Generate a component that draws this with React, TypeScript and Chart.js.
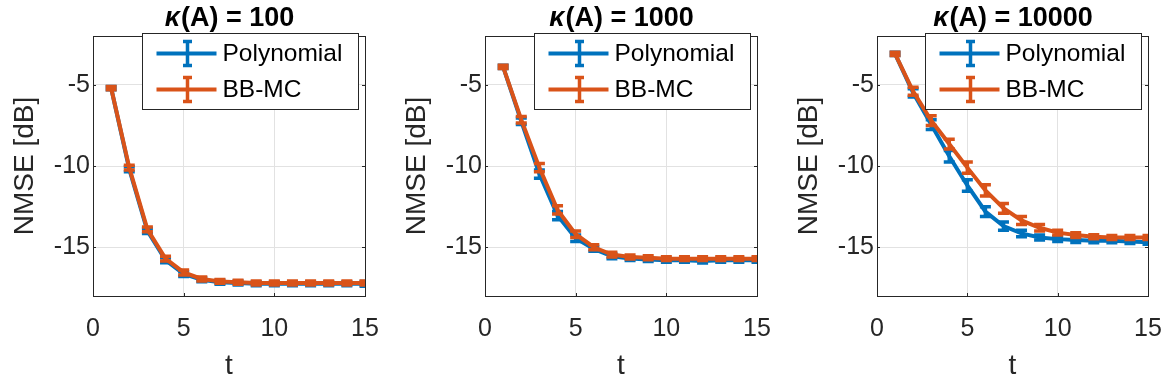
import React, { useEffect, useRef } from "react";
import { Chart, registerables } from "chart.js";

Chart.register(...registerables);

const FONT = '"Liberation Sans", Arial, Helvetica, sans-serif';

// ---------- data ----------
const tValues = [1, 2, 3, 4, 5, 6, 7, 8, 9, 10, 11, 12, 13, 14, 15];
const xTickValues = [0, 5, 10, 15];
const yTickValues = [-15, -10, -5];
const seriesNames = ["Polynomial", "BB-MC"];
const kappaLabels = ["100", "1000", "10000"];

const poly100 = [-5.2, -10.2, -14.0, -15.8, -16.65, -17.0, -17.15, -17.2, -17.25, -17.25, -17.25, -17.25, -17.25, -17.25, -17.25];
const polyErr100 = [0.1, 0.15, 0.15, 0.15, 0.15, 0.12, 0.12, 0.12, 0.12, 0.12, 0.12, 0.12, 0.12, 0.12, 0.15];
const bbmc100 = [-5.2, -10.1, -13.9, -15.7, -16.55, -16.95, -17.1, -17.15, -17.2, -17.2, -17.2, -17.2, -17.2, -17.2, -17.2];
const bbmcErr100 = [0.1, 0.15, 0.15, 0.15, 0.15, 0.12, 0.12, 0.12, 0.12, 0.12, 0.12, 0.12, 0.12, 0.12, 0.12];

const poly1000 = [-3.9, -7.25, -10.5, -13.05, -14.45, -15.1, -15.55, -15.7, -15.75, -15.8, -15.8, -15.85, -15.8, -15.8, -15.8];
const polyErr1000 = [0.1, 0.2, 0.25, 0.25, 0.2, 0.15, 0.15, 0.12, 0.12, 0.12, 0.12, 0.12, 0.12, 0.12, 0.12];
const bbmc1000 = [-3.9, -7.15, -10.1, -12.7, -14.2, -15.0, -15.45, -15.6, -15.65, -15.7, -15.7, -15.7, -15.7, -15.7, -15.7];
const bbmcErr1000 = [0.1, 0.2, 0.25, 0.25, 0.2, 0.15, 0.15, 0.12, 0.12, 0.12, 0.12, 0.12, 0.12, 0.12, 0.12];

const poly10000 = [-3.1, -5.5, -7.45, -9.4, -11.2, -12.8, -13.7, -14.15, -14.4, -14.5, -14.55, -14.6, -14.6, -14.65, -14.7];
const polyErr10000 = [0.1, 0.25, 0.3, 0.35, 0.35, 0.3, 0.25, 0.2, 0.15, 0.15, 0.15, 0.12, 0.12, 0.12, 0.12];
const bbmc10000 = [-3.1, -5.4, -7.2, -8.65, -10.1, -11.5, -12.6, -13.35, -13.8, -14.1, -14.25, -14.35, -14.4, -14.4, -14.4];
const bbmcErr10000 = [0.1, 0.25, 0.3, 0.3, 0.35, 0.35, 0.3, 0.25, 0.2, 0.15, 0.15, 0.12, 0.12, 0.12, 0.12];

const X_MIN = 0;
const X_MAX = 15;
const Y_MIN = -18;
const Y_MAX = -2;

// ---------- layout ----------
const BLUE = "#0072BD";
const ORANGE = "#D95319";
const AXIS = "#262626";
const GRID = "#E2E2E2";
const HEIGHT = 376;
const AREA_TOP = 36;
const AREA_BOTTOM = 296;
const LINE_W = 4;

type PanelDef = {
  kappa: string;
  poly: number[];
  polyErr: number[];
  bb: number[];
  bbErr: number[];
  left: number;
  width: number;
  areaLeft: number;
  areaRight: number;
};

const panels: PanelDef[] = [
  { kappa: kappaLabels[0], poly: poly100, polyErr: polyErr100, bb: bbmc100, bbErr: bbmcErr100, left: 0, width: 392, areaLeft: 93, areaRight: 365 },
  { kappa: kappaLabels[1], poly: poly1000, polyErr: polyErr1000, bb: bbmc1000, bbErr: bbmcErr1000, left: 392, width: 392, areaLeft: 93, areaRight: 365 },
  { kappa: kappaLabels[2], poly: poly10000, polyErr: polyErr10000, bb: bbmc10000, bbErr: bbmcErr10000, left: 784, width: 392, areaLeft: 93, areaRight: 364 },
];

function makeOverlay(p: PanelDef, errs: number[][], colors: string[]) {
  return {
    id: "overlay",
    afterDatasetDraw(chart: any, args: any) {
      const ctx = chart.ctx;
      const ys = chart.scales.y;
      const meta = args.meta;
      const e = errs[args.index];
      const ds = chart.data.datasets[args.index];
      ctx.save();
      const a = chart.chartArea;
      ctx.beginPath();
      ctx.rect(a.left, a.top, a.right - a.left, a.bottom - a.top);
      ctx.clip();
      ctx.strokeStyle = colors[args.index];
      ctx.lineWidth = 3.5;
      ctx.lineCap = "butt";
      meta.data.forEach((pt: any, i: number) => {
        const v = ds.data[i].y;
        const y1 = ys.getPixelForValue(v + e[i]);
        const y2 = ys.getPixelForValue(v - e[i]);
        const x = pt.x;
        ctx.beginPath();
        ctx.moveTo(x, y1);
        ctx.lineTo(x, y2);
        ctx.moveTo(x - 5.5, y1);
        ctx.lineTo(x + 5.5, y1);
        ctx.moveTo(x - 5.5, y2);
        ctx.lineTo(x + 5.5, y2);
        ctx.stroke();
      });
      ctx.restore();
    },
    afterDraw(chart: any) {
      const ctx = chart.ctx;
      const a = chart.chartArea;
      const xs = chart.scales.x;
      const ys = chart.scales.y;
      ctx.save();
      // box
      ctx.strokeStyle = AXIS;
      ctx.lineWidth = 1;
      ctx.strokeRect(Math.round(a.left) + 0.5, Math.round(a.top) + 0.5, Math.round(a.right - a.left), Math.round(a.bottom - a.top));
      // inward ticks
      ctx.beginPath();
      xTickValues.forEach((v) => {
        const x = Math.round(xs.getPixelForValue(v)) + 0.5;
        ctx.moveTo(x, a.bottom);
        ctx.lineTo(x, a.bottom - 3);
        ctx.moveTo(x, a.top);
        ctx.lineTo(x, a.top + 3);
      });
      yTickValues.forEach((v) => {
        const y = Math.round(ys.getPixelForValue(v)) + 0.5;
        ctx.moveTo(a.left, y);
        ctx.lineTo(a.left + 3, y);
        ctx.moveTo(a.right, y);
        ctx.lineTo(a.right - 3, y);
      });
      ctx.stroke();

      const cx = (a.left + a.right) / 2;
      // title
      ctx.fillStyle = "#000";
      ctx.textBaseline = "alphabetic";
      const kFont = `italic bold 27px ${FONT}`;
      const rFont = `bold 27px ${FONT}`;
      const rest = `(A) = ${p.kappa}`;
      ctx.font = kFont;
      const kw = ctx.measureText("κ").width;
      ctx.font = rFont;
      const rw = ctx.measureText(rest).width;
      const tx = cx - (kw + rw) / 2;
      ctx.textAlign = "left";
      ctx.font = kFont;
      ctx.fillText("κ", tx, 26);
      ctx.font = rFont;
      ctx.fillText(rest, tx + kw + 1, 26);

      // axis titles
      ctx.font = `28px ${FONT}`;
      ctx.textAlign = "center";
      ctx.fillStyle = AXIS;
      ctx.fillText("t", cx, 374);
      ctx.save();
      ctx.translate(33, (a.top + a.bottom) / 2);
      ctx.rotate(-Math.PI / 2);
      ctx.fillText("NMSE [dB]", 0, 0);
      ctx.restore();

      // legend
      const lw = 216;
      const lh = 76;
      const lx = Math.round(a.right - 7 - lw) + 0.5;
      const ly = 33.5;
      ctx.fillStyle = "#fff";
      ctx.fillRect(lx, ly, lw, lh);
      ctx.strokeStyle = AXIS;
      ctx.lineWidth = 1;
      ctx.strokeRect(lx, ly, lw, lh);
      seriesNames.forEach((name, i) => {
        const ry = ly + 20 + i * 36;
        ctx.strokeStyle = colors[i];
        ctx.lineWidth = LINE_W;
        ctx.beginPath();
        ctx.moveTo(lx + 14, ry);
        ctx.lineTo(lx + 74, ry);
        ctx.stroke();
        ctx.lineWidth = 3.5;
        const ex = lx + 45;
        ctx.beginPath();
        ctx.moveTo(ex, ry - 12);
        ctx.lineTo(ex, ry + 12);
        ctx.moveTo(ex - 4.5, ry - 12);
        ctx.lineTo(ex + 4.5, ry - 12);
        ctx.moveTo(ex - 4.5, ry + 12);
        ctx.lineTo(ex + 4.5, ry + 12);
        ctx.stroke();
        ctx.fillStyle = "#000";
        ctx.font = `24.5px ${FONT}`;
        ctx.textAlign = "left";
        ctx.textBaseline = "middle";
        ctx.fillText(name, lx + 80, ry + 1);
      });
      ctx.restore();
    },
  };
}

function Panel({ p }: { p: PanelDef }) {
  const ref = useRef<HTMLCanvasElement | null>(null);
  useEffect(() => {
    if (!ref.current) return;
    const colors = [BLUE, ORANGE];
    const chart = new Chart(ref.current, {
      type: "line",
      data: {
        datasets: [
          {
            label: seriesNames[0],
            data: tValues.map((t, i) => ({ x: t, y: p.poly[i] })),
            borderColor: BLUE,
            backgroundColor: BLUE,
            borderWidth: LINE_W,
            pointRadius: 0,
            tension: 0,
            order: 1,
          },
          {
            label: seriesNames[1],
            data: tValues.map((t, i) => ({ x: t, y: p.bb[i] })),
            borderColor: ORANGE,
            backgroundColor: ORANGE,
            borderWidth: LINE_W,
            pointRadius: 0,
            tension: 0,
            order: 0,
          },
        ],
      },
      options: {
        responsive: false,
        animation: false,
        layout: { padding: { left: 0, top: AREA_TOP, right: p.width - p.areaRight, bottom: 0 } },
        plugins: {
          legend: { display: false },
          title: { display: false },
          tooltip: { enabled: false },
        },
        scales: {
          x: {
            type: "linear",
            min: X_MIN,
            max: X_MAX,
            afterBuildTicks: (s: any) => {
              s.ticks = xTickValues.map((v) => ({ value: v }));
            },
            afterFit: (s: any) => {
              s.height = HEIGHT - AREA_BOTTOM;
              s.paddingLeft = 0;
              s.paddingRight = 0;
            },
            grid: { color: GRID, drawTicks: false, lineWidth: 1 },
            border: { display: false },
            ticks: {
              font: { family: FONT, size: 25 },
              color: AXIS,
              padding: 18,
              maxRotation: 0,
              autoSkip: false,
            },
          },
          y: {
            type: "linear",
            min: Y_MIN,
            max: Y_MAX,
            afterBuildTicks: (s: any) => {
              s.ticks = yTickValues.map((v) => ({ value: v }));
            },
            afterFit: (s: any) => {
              s.width = p.areaLeft;
              s.paddingTop = 0;
              s.paddingBottom = 0;
            },
            grid: { color: GRID, drawTicks: false, lineWidth: 1 },
            border: { display: false },
            ticks: {
              font: { family: FONT, size: 25 },
              color: AXIS,
              padding: 3,
              autoSkip: false,
            },
          },
        },
      },
      plugins: [makeOverlay(p, [p.polyErr, p.bbErr], colors)],
    } as any);
    return () => chart.destroy();
  }, [p]);
  return (
    <canvas
      ref={ref}
      width={p.width}
      height={HEIGHT}
      style={{ position: "absolute", left: p.left, top: 0, width: p.width, height: HEIGHT }}
    />
  );
}

export default function App() {
  return (
    <div style={{ position: "fixed", left: 0, top: 0, width: 1176, height: HEIGHT, background: "#fff", overflow: "hidden" }}>
      {panels.map((p, i) => (
        <Panel key={i} p={p} />
      ))}
    </div>
  );
}
